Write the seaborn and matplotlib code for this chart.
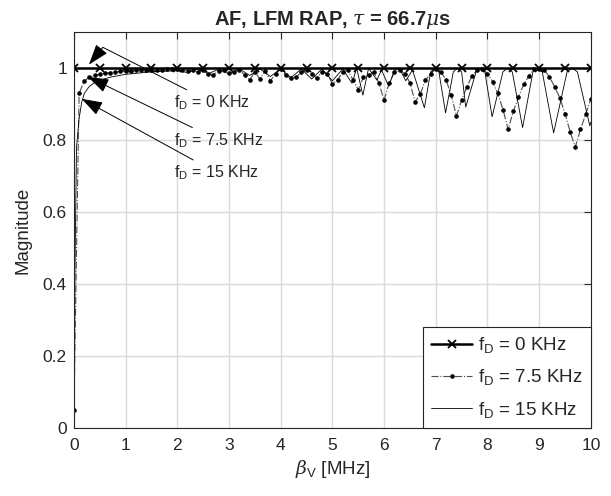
import matplotlib
matplotlib.use('Agg')
import matplotlib.pyplot as plt
import numpy as np
import pandas as pd
import seaborn as sns

# fD = 0 KHz: flat at 1, markers every 0.5 MHz
beta_0 = [0.0, 0.5, 1.0, 1.5, 2.0, 2.5, 3.0, 3.5, 4.0, 4.5, 5.0,
          5.5, 6.0, 6.5, 7.0, 7.5, 8.0, 8.5, 9.0, 9.5, 10.0]
mag_0 = [1.0] * len(beta_0)

# fD = 7.5 KHz: sampled every 0.1 MHz
beta_75 = np.linspace(0, 10, 101)
mag_75 = [0.05, 0.93, 0.965, 0.975, 0.98, 0.983, 0.986, 0.988, 0.99, 0.991,
          0.992, 0.993, 0.994, 0.994, 0.995, 0.995, 0.996, 0.996, 0.997, 0.997,
          0.997, 0.995, 0.993, 0.996, 0.99, 0.994, 0.985, 0.982, 0.992, 0.995,
          0.988, 0.99, 0.995, 0.982, 0.968, 0.99, 0.97, 0.992, 0.965, 0.985,
          0.998, 0.98, 0.972, 0.975, 0.99, 0.995, 0.985, 0.972, 0.99, 0.985,
          0.957, 0.967, 0.99, 0.995, 0.967, 0.94, 0.975, 0.98, 0.99, 0.959,
          0.911, 0.96, 0.989, 0.995, 0.985, 0.96, 0.906, 0.928, 0.967, 0.985,
          0.998, 0.99, 0.967, 0.925, 0.867, 0.911, 0.948, 0.978, 0.995, 0.998,
          0.985, 0.962, 0.93, 0.885, 0.83, 0.88, 0.92, 0.955, 0.978, 0.998,
          0.999, 0.995, 0.976, 0.948, 0.918, 0.874, 0.823, 0.781, 0.83, 0.872,
          0.914]

# fD = 15 KHz: thin solid line (vertices)
beta_15 = [0.0, 0.02, 0.05, 0.1, 0.15, 0.2, 0.3, 0.4, 0.5, 0.7, 1.0, 1.5,
           2.0, 2.2, 2.4, 2.6, 2.8, 3.0, 3.2, 3.4, 3.6, 3.8, 4.0, 4.2, 4.4,
           4.6, 4.8, 5.0, 5.2, 5.38, 5.47, 5.59, 5.7, 5.86, 5.95, 6.09, 6.2,
           6.26, 6.32, 6.42, 6.55, 6.78, 6.9, 6.98, 7.06, 7.19, 7.34, 7.42,
           7.5, 7.58, 7.78, 7.87, 7.95, 8.09, 8.3, 8.39, 8.48, 8.68, 8.88,
           8.97, 9.06, 9.28, 9.54, 9.64, 9.74, 9.98, 10.0]
mag_15 = [0.0, 0.45, 0.78, 0.86, 0.905, 0.93, 0.95, 0.96, 0.967, 0.975,
          0.983, 0.99, 0.993, 0.988, 0.998, 0.985, 0.997, 0.984, 0.998, 0.98,
          0.998, 0.977, 0.998, 0.974, 0.998, 0.97, 0.998, 0.965, 0.998, 0.958,
          1.0, 0.925, 1.0, 0.967, 0.995, 0.95, 0.993, 1.0, 0.993, 0.965,
          0.995, 0.89, 0.99, 1.0, 0.99, 0.876, 0.99, 1.0, 0.99, 0.892,
          0.99, 1.0, 0.99, 0.865, 0.99, 1.0, 0.99, 0.835, 0.99, 1.0, 0.99,
          0.82, 0.99, 1.0, 0.99, 0.84, 0.85]

labels = [r'f$_{\mathrm{D}}$ = 0 KHz', r'f$_{\mathrm{D}}$ = 7.5 KHz',
          r'f$_{\mathrm{D}}$ = 15 KHz']

sns.set_style('white')
plt.rcParams['font.family'] = ['Liberation Sans', 'DejaVu Sans']
plt.rcParams['mathtext.fontset'] = 'custom'
plt.rcParams['mathtext.rm'] = 'Liberation Sans'
plt.rcParams['mathtext.it'] = 'DejaVu Serif:italic'
plt.rcParams['mathtext.bf'] = 'Liberation Sans:bold'

fig, ax = plt.subplots(figsize=(6.11, 4.96), dpi=100)
fig.subplots_adjust(left=0.121, right=0.967, top=0.935, bottom=0.137)

sns.lineplot(x=beta_0, y=mag_0, ax=ax, color='black', linewidth=1.8,
             marker='x', markersize=6, markeredgewidth=1.3,
             markeredgecolor='black', sort=False, label=labels[0])
sns.lineplot(x=beta_75, y=mag_75, ax=ax, color='0.3', linewidth=0.8,
             linestyle='-.', marker='.', markersize=5, markeredgecolor='black',
             markerfacecolor='black', sort=False, label=labels[1])
sns.lineplot(x=beta_15, y=mag_15, ax=ax, color='black', linewidth=0.6,
             sort=False, label=labels[2])

ax.set_xlim(0, 10)
ax.set_ylim(0, 1.1)
ax.set_xticks(range(0, 11))
ax.set_yticks([0, 0.2, 0.4, 0.6, 0.8, 1.0])
ax.set_yticklabels(['0', '0.2', '0.4', '0.6', '0.8', '1'])
ax.grid(True, color='0.86', linewidth=1.0)
ax.set_axisbelow(True)
for s in ax.spines.values():
    s.set_color('0.15')
    s.set_linewidth(0.8)
ax.tick_params(direction='in', length=5, width=0.8, top=True, right=True,
               labelsize=12.5, colors='0.15')
ax.tick_params(axis='x', pad=7)
ax.tick_params(axis='y', pad=5)

ax.set_title(r'AF, LFM RAP, $\tau$ = 66.7$\mu$s', fontsize=14.5,
             fontweight='bold', pad=5)
ax.set_xlabel(r'$\beta_{\mathrm{V}}$ [MHz]', fontsize=13.5, color='0.15')
ax.set_ylabel('Magnitude', fontsize=13.5, color='0.15', labelpad=8)

# arrows with text
arrow = dict(arrowstyle='-|>,head_length=0.65,head_width=0.22', color='black',
             lw=0.7, mutation_scale=20, shrinkA=0, shrinkB=0)
line = dict(arrowstyle='-', color='black', lw=0.7, shrinkA=0, shrinkB=0)
ax.annotate('', xy=(0.29, 1.01), xytext=(0.56, 1.058), arrowprops=arrow)
ax.annotate(labels[0], xy=(0.56, 1.058), xytext=(1.93, 0.905),
            fontsize=11.5, va='center', arrowprops=line)
ax.annotate(labels[1], xy=(0.27, 0.976), xytext=(1.93, 0.8),
            fontsize=11.5, va='center', arrowprops=arrow)
ax.annotate(labels[2], xy=(0.15, 0.915), xytext=(1.93, 0.71),
            fontsize=11.5, va='center', arrowprops=arrow)

leg = ax.legend(loc='lower right', bbox_to_anchor=(1, 0), borderaxespad=0,
                fontsize=13.5, fancybox=False, framealpha=1, edgecolor='0.15',
                handlelength=2.2, labelspacing=0.65, handletextpad=0.3,
                borderpad=0.45)
leg.get_frame().set_linewidth(0.8)

fig.savefig('out.png', dpi=100)
